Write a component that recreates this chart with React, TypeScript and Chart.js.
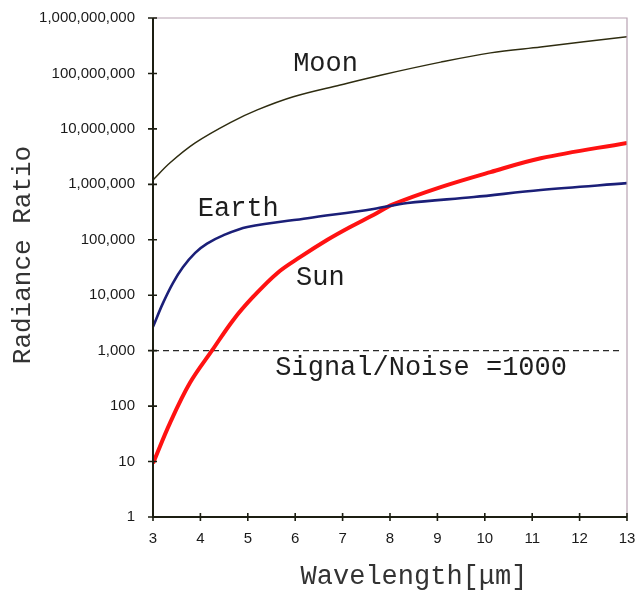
import React, { useEffect, useRef } from "react";
import { Chart, registerables } from "chart.js";

Chart.register(...registerables);

const moonX = [3, 3.36, 3.89, 4.63, 5.2, 5.96, 6.95, 7.8, 9.07, 10.12, 11.18, 13];
const moonY = [1.2e6, 2.45e6, 5.6e6, 1.3e7, 2.2e7, 3.8e7, 6.2e7, 9.3e7, 1.6e8, 2.35e8, 3.0e8, 4.6e8];

const earthX = [3, 3.21, 3.42, 3.63, 3.89, 4.14, 4.48, 4.99, 6.26, 7.65, 8.37, 9.77, 11.18, 13];
const earthY = [2700, 7200, 1.66e4, 3.2e4, 5.8e4, 8.5e4, 1.2e5, 1.7e5, 2.45e5, 3.6e5, 4.6e5, 5.9e5, 7.9e5, 1.05e6];

const sunX = [3, 3.36, 3.78, 4.25, 4.69, 5.11, 5.62, 6.11, 6.68, 7.16, 7.65, 8.05, 9.07, 10.12, 11.18, 13];
const sunY = [9.3, 50, 263, 1020, 3550, 9300, 2.5e4, 4.9e4, 1.0e5, 1.7e5, 2.8e5, 4.3e5, 8.9e5, 1.66e6, 2.95e6, 5.6e6];

const snrX = [3, 12.9];
const snrY = [1000, 1000];

const xTicks = [3, 4, 5, 6, 7, 8, 9, 10, 11, 12, 13];
const yTicks = [1, 10, 100, 1000, 1e4, 1e5, 1e6, 1e7, 1e8, 1e9];

const seriesLabels = [
  { text: "Moon", x: 6.64, y: 1.5e8, align: "center" },
  { text: "Earth", x: 4.8, y: 3.6e5, align: "center" },
  { text: "Sun", x: 6.53, y: 2.1e4, align: "center" },
  { text: "Signal/Noise =1000", x: 5.58, y: 490, align: "left" },
];

const xTitle = "Wavelength[μm]";
const yTitle = "Radiance Ratio";

const pts = (xs: number[], ys: number[]) => xs.map((x, i) => ({ x, y: ys[i] }));

export default function App() {
  const ref = useRef<HTMLCanvasElement | null>(null);
  useEffect(() => {
    if (!ref.current) return;
    const decor = {
      id: "decor",
      afterDatasetsDraw(chart: any) {
        const { ctx, chartArea: a, scales } = chart;
        const xs = scales.x, ys = scales.y;
        ctx.save();
        ctx.strokeStyle = "#b8a2b2";
        ctx.lineWidth = 1.2;
        ctx.beginPath();
        ctx.moveTo(a.left, a.top);
        ctx.lineTo(a.right, a.top);
        ctx.lineTo(a.right, a.bottom);
        ctx.stroke();
        ctx.strokeStyle = "#1c1e12";
        ctx.lineWidth = 2;
        ctx.beginPath();
        ctx.moveTo(a.left, a.top);
        ctx.lineTo(a.left, a.bottom);
        ctx.lineTo(a.right, a.bottom);
        ctx.stroke();
        ctx.lineWidth = 1.6;
        ctx.beginPath();
        for (const v of yTicks) {
          const py = ys.getPixelForValue(v);
          ctx.moveTo(a.left - 5, py);
          ctx.lineTo(a.left + 4, py);
        }
        for (const v of xTicks) {
          const px = xs.getPixelForValue(v);
          ctx.moveTo(px, a.bottom - 4);
          ctx.lineTo(px, a.bottom + 4);
        }
        ctx.stroke();
        ctx.fillStyle = "#1e1e1e";
        ctx.font = "27px 'Liberation Mono', 'DejaVu Sans Mono', monospace";
        ctx.textBaseline = "middle";
        for (const l of seriesLabels) {
          ctx.textAlign = l.align as CanvasTextAlign;
          ctx.fillText(l.text, xs.getPixelForValue(l.x), ys.getPixelForValue(l.y));
        }
        ctx.fillStyle = "#333";
        ctx.font = "27px 'Liberation Mono', 'DejaVu Sans Mono', monospace";
        ctx.textAlign = "center";
        ctx.fillText(xTitle, 414, 577);
        ctx.translate(23, 255);
        ctx.rotate(-Math.PI / 2);
        ctx.font = "26px 'Liberation Mono', 'DejaVu Sans Mono', monospace";
        ctx.fillText(yTitle, 0, 0);
        ctx.restore();
      },
    };
    const chart = new Chart(ref.current, {
      type: "line",
      data: {
        datasets: [
          { data: pts(moonX, moonY), borderColor: "#2e2c10", borderWidth: 1.5, pointRadius: 0, tension: 0.35 },
          { data: pts(earthX, earthY), borderColor: "#1b1f78", borderWidth: 2.6, pointRadius: 0, tension: 0.35 },
          { data: pts(sunX, sunY), borderColor: "#ff1212", borderWidth: 4, pointRadius: 0, tension: 0.35 },
          { data: pts(snrX, snrY), borderColor: "#2a2a2a", borderWidth: 1.3, borderDash: [6, 4], pointRadius: 0 },
        ],
      } as any,
      options: {
        responsive: false,
        animation: false,
        layout: { padding: { left: 0, top: 18, right: 13, bottom: 0 } },
        plugins: { legend: { display: false }, tooltip: { enabled: false } },
        scales: {
          x: {
            type: "linear",
            min: 3,
            max: 13,
            grid: { display: false },
            border: { display: false },
            afterBuildTicks: (s: any) => { s.ticks = xTicks.map((v) => ({ value: v })); },
            afterFit: (s: any) => { s.height = 74; s.paddingLeft = 0; s.paddingRight = 0; },
            ticks: { padding: 5, color: "#1a1a1a", font: { family: "'Liberation Sans', Arial, sans-serif", size: 15 } },
          },
          y: {
            type: "logarithmic",
            min: 1,
            max: 1e9,
            grid: { display: false },
            border: { display: false },
            afterBuildTicks: (s: any) => { s.ticks = yTicks.map((v) => ({ value: v, major: true })); },
            afterFit: (s: any) => { s.width = 153; s.paddingTop = 0; s.paddingBottom = 0; },
            ticks: {
              padding: 10,
              color: "#1a1a1a",
              font: { family: "'Liberation Sans', Arial, sans-serif", size: 15 },
              callback: (v: any) => Number(v).toLocaleString("en-US"),
            },
          },
        },
      } as any,
      plugins: [decor],
    });
    return () => chart.destroy();
  }, []);
  return (
    <div style={{ position: "absolute", left: 0, top: 0, width: 640, height: 591, background: "#fff" }}>
      <canvas ref={ref} width={640} height={591} />
    </div>
  );
}
